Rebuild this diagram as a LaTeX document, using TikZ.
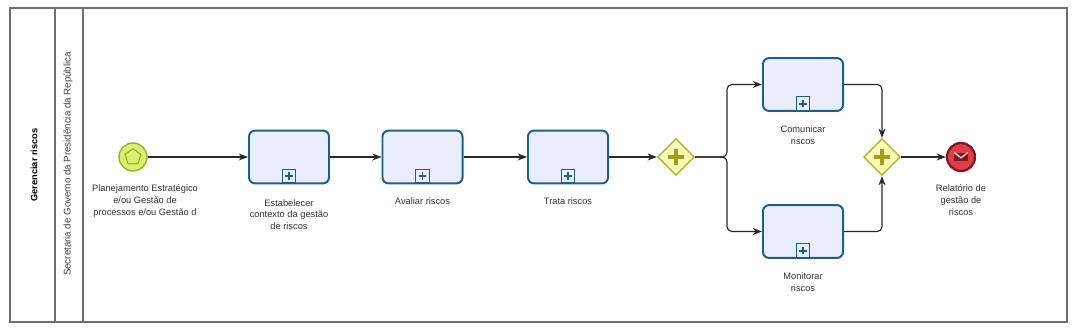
\documentclass[tikz,border=0pt]{standalone}
\usepackage{fontspec}
\setmainfont{Liberation Sans}
\usetikzlibrary{arrows.meta,positioning,shapes.geometric}
\definecolor{TaskFill}{RGB}{234,238,252}
\definecolor{TaskLine}{RGB}{28,96,138}
\definecolor{StartFill}{RGB}{218,240,110}
\definecolor{StartLine}{RGB}{150,180,40}
\definecolor{GateFill}{RGB}{250,250,185}
\definecolor{GateLine}{RGB}{180,180,50}
\definecolor{GatePlus}{RGB}{160,160,25}
\definecolor{EndFill}{RGB}{222,62,72}
\definecolor{EndLine}{RGB}{135,20,30}
\definecolor{PoolGray}{RGB}{110,110,110}
\definecolor{FlowGray}{RGB}{40,40,40}

\begin{document}
\begin{tikzpicture}[x=0.025cm,y=-0.025cm,>=Stealth,
    font=\fontsize{6.6}{8.4}\selectfont,
    pool/.style={draw=PoolGray,line width=0.8pt},
    task/.style={draw=TaskLine,fill=TaskFill,line width=1.4pt,
      rounded corners=0.15cm,minimum width=2.0cm,minimum height=1.32cm},
    marker/.style={draw=TaskLine,fill=TaskFill,line width=0.8pt,
      minimum size=0.34cm,inner sep=0pt,
      path picture={\draw[TaskLine,line width=1.4pt]
        ([xshift=-0.09cm]path picture bounding box.center) --
        ([xshift=0.09cm]path picture bounding box.center)
        ([yshift=-0.09cm]path picture bounding box.center) --
        ([yshift=0.09cm]path picture bounding box.center);}},
    gate/.style={diamond,aspect=1,draw=GateLine,fill=GateFill,
      line width=1pt,minimum size=0.92cm,inner sep=0pt,
      path picture={\draw[GatePlus,line width=3pt]
        ([xshift=-0.19cm]path picture bounding box.center) --
        ([xshift=0.19cm]path picture bounding box.center)
        ([yshift=-0.19cm]path picture bounding box.center) --
        ([yshift=0.19cm]path picture bounding box.center);}},
    startev/.style={circle,draw=StartLine,fill=StartFill,line width=1pt,
      minimum size=0.7cm,inner sep=0pt},
    endev/.style={circle,draw=EndLine,fill=EndFill,line width=1.6pt,
      minimum size=0.7cm,inner sep=0pt,
      path picture={
        \fill[EndLine] ([shift={(-0.17cm,-0.11cm)}]path picture bounding box.center)
          rectangle ([shift={(0.17cm,0.11cm)}]path picture bounding box.center);
        \draw[white,line width=0.8pt]
          ([shift={(-0.17cm,0.11cm)}]path picture bounding box.center) --
          ([shift={(0cm,-0.02cm)}]path picture bounding box.center) --
          ([shift={(0.17cm,0.11cm)}]path picture bounding box.center);}},
    lbl/.style={align=center,inner sep=1pt,text=black!80},
    flow/.style={->,draw=FlowGray,line width=0.8pt,rounded corners=0.12cm}]

  % frame
  \fill[white] (0,0) rectangle (1078,330);
  \useasboundingbox (0,0) rectangle (1078,330);
  \draw[pool] (10,8) rectangle (1067,322);
  \draw[pool] (55,8) -- (55,322);
  \draw[pool] (83,8) -- (83,322);
  \node[rotate=90,font=\fontsize{6.6}{8}\selectfont\bfseries] (poolname) at (34,165)
    {Gerenciar riscos};
  \node[rotate=90,text=black!75,font=\fontsize{6.9}{8}\selectfont] (lanename) at (68,164)
    {Secretaria de Governo da Presidência da República};

  % events and gateways
  \node[startev] (start) at (133,157) {};
  \node[regular polygon,regular polygon sides=5,draw=StartLine,line width=0.8pt,
    minimum size=0.42cm,inner sep=0pt] (startmark) at (start.center) {};
  \node[gate] (split) at (676,157) {};
  \node[gate] (join) at (882,157) {};
  \node[endev] (fim) at (961,157) {};
  \coordinate (fork) at (727,157);

  % tasks
  \node[task] (estab) at (289,157) {};
  \node[task] (avaliar) at (422.5,157) {};
  \node[task] (trata) at (568,157) {};
  \node[task] (comunicar) at (803,84.5) {};
  \node[task] (monitorar) at (803,231.5) {};
  \foreach \t in {estab,avaliar,trata,comunicar,monitorar}
    \node[marker,anchor=south] (\t-mk) at ([yshift=0.7pt]\t.south) {};

  % labels
  \node[lbl,below=8pt of start,xshift=0.3cm] (startlbl)
    {Planejamento Estratégico\\e/ou Gestão de\\processos e/ou Gestão d};
  \node[lbl,below=9.5pt of estab] (establbl)
    {Estabelecer\\contexto da gestão\\de riscos};
  \node[lbl,below=8.5pt of avaliar] (avaliarlbl) {Avaliar riscos};
  \node[lbl,below=8.5pt of trata] (tratalbl) {Trata riscos};
  \node[lbl,below=9pt of comunicar] (comunicarlbl) {Comunicar\\riscos};
  \node[lbl,below=9pt of monitorar] (monitorarlbl) {Monitorar\\riscos};
  \node[lbl,below=8pt of fim] (fimlbl) {Relatório de\\gestão de\\riscos};

  % sequence flows
  \draw[flow] (start) -- (estab);
  \draw[flow] (estab) -- (avaliar);
  \draw[flow] (avaliar) -- (trata);
  \draw[flow] (trata) -- (split);
  \draw[flow] (split) -- (fork) |- (comunicar);
  \draw[flow] (split) -- (fork) |- (monitorar);
  \draw[flow] (comunicar) -| (join);
  \draw[flow] (monitorar) -| (join);
  \draw[flow] (join) -- (fim);
\end{tikzpicture}
\end{document}
